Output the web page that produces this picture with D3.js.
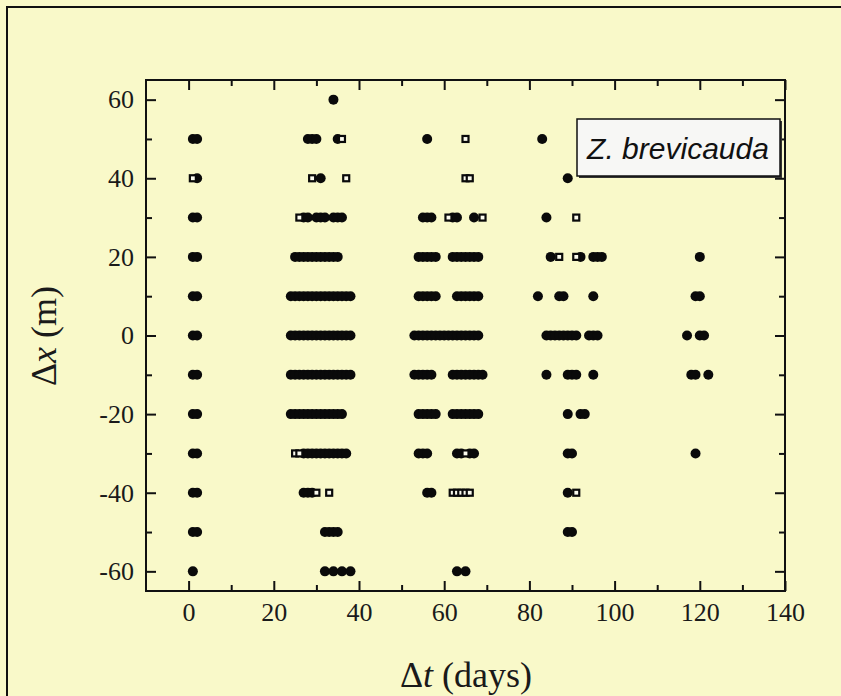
<!DOCTYPE html>
<html>
<head>
<meta charset="utf-8">
<script src="https://cdn.jsdelivr.net/npm/d3@7"></script>
<style>
  html, body { margin: 0; padding: 0; background: #f9f9c9; }
  svg { display: block; }
</style>
</head>
<body>
<svg id="chart" width="841" height="696"></svg>
<script>
// Displacement (m) of each recapture row
const rowsDx = [60, 50, 40, 30, 20, 10, 0, -10, -20, -30, -40, -50, -60];

// Elapsed days of recaptures, one list per row (filled markers)
const filledDays = [
  [34],
  [1, 2, 28, 29, 30, 35, 56, 83],
  [2, 31, 89],
  [1, 2, 27, 28, 30, 31, 32, 34, 35, 36, 55, 56, 57, 62, 63, 67, 84],
  [1, 2, 25, 26, 27, 28, 29, 30, 31, 32, 33, 34, 35, 54, 55, 56, 57, 58, 62, 63, 64, 65, 66, 67, 68, 85, 92, 95, 96, 97, 120],
  [1, 2, 24, 25, 26, 27, 28, 29, 30, 31, 32, 33, 34, 35, 36, 37, 38, 54, 55, 56, 57, 58, 63, 64, 65, 66, 67, 68, 82, 87, 88, 95, 119, 120],
  [1, 2, 24, 25, 26, 27, 28, 29, 30, 31, 32, 33, 34, 35, 36, 37, 38, 53, 54, 55, 56, 57, 58, 59, 60, 61, 62, 63, 64, 65, 66, 67, 68, 84, 85, 86, 87, 88, 89, 90, 91, 94, 95, 96, 117, 120, 121],
  [1, 2, 24, 25, 26, 27, 28, 29, 30, 31, 32, 33, 34, 35, 36, 37, 38, 53, 54, 55, 56, 57, 62, 63, 64, 65, 66, 67, 68, 69, 84, 89, 90, 91, 95, 118, 119, 122],
  [1, 2, 24, 25, 26, 27, 28, 29, 30, 31, 32, 33, 34, 35, 36, 54, 55, 56, 57, 58, 62, 63, 64, 65, 66, 67, 68, 89, 92, 93],
  [1, 2, 27, 28, 29, 30, 31, 32, 33, 34, 35, 36, 37, 54, 55, 56, 63, 64, 66, 67, 89, 90, 119],
  [1, 2, 27, 28, 29, 56, 57, 89],
  [1, 2, 32, 33, 34, 35, 89, 90],
  [1, 32, 34, 36, 38, 63, 65]
];

// Elapsed days of recaptures, one list per row (open squares)
const openDays = [
  [],
  [36, 65],
  [1, 29, 37, 65, 66],
  [26, 61, 69, 91],
  [87, 91],
  [],
  [],
  [],
  [],
  [25, 26, 65],
  [30, 33, 62, 63, 64, 65, 66, 91],
  [],
  []
];

const xMajorTicks = [0, 20, 40, 60, 80, 100, 120, 140];
const xMinorTicks = [10, 30, 50, 70, 90, 110, 130];
const yMajorTicks = [-60, -40, -20, 0, 20, 40, 60];
const yMinorTicks = [-50, -30, -10, 10, 30, 50];

const legendLabel = "Z. brevicauda";

const svg = d3.select("#chart");
const bg = "#f9f9c9";

svg.append("rect").attr("width", 841).attr("height", 696).attr("fill", bg);
// outer frame (extends past right/bottom edge)
svg.append("rect")
  .attr("x", 7).attr("y", 7).attr("width", 860).attr("height", 720)
  .attr("fill", "none").attr("stroke", "#111").attr("stroke-width", 2);

const plot = { left: 146, right: 785, top: 80, bottom: 591 };

const x = d3.scaleLinear().domain([-10, 140]).range([plot.left, plot.right]);
const y = d3.scaleLinear().domain([-65, 65]).range([plot.bottom, plot.top]);

const serif = "'Liberation Serif', 'Times New Roman', serif";

function styleAxis(g) {
  g.select(".domain").remove();
  g.selectAll("line").attr("stroke", "#111").attr("stroke-width", 2);
  g.selectAll("text").attr("fill", "#1a1a1a").style("font-family", serif).style("font-size", "26px");
}

// bottom axis with labels
svg.append("g").attr("transform", `translate(0,${plot.bottom})`)
  .call(d3.axisBottom(x).tickValues(xMajorTicks).tickSizeInner(-10).tickSizeOuter(0).tickPadding(12).tickFormat(d => String(d)))
  .call(styleAxis);
svg.append("g").attr("transform", `translate(0,${plot.bottom})`)
  .call(d3.axisBottom(x).tickValues(xMinorTicks).tickSizeInner(-6).tickSizeOuter(0).tickFormat(""))
  .call(styleAxis);
// top mirror ticks
svg.append("g").attr("transform", `translate(0,${plot.top})`)
  .call(d3.axisTop(x).tickValues(xMajorTicks).tickSizeInner(-10).tickSizeOuter(0).tickFormat(""))
  .call(styleAxis);
svg.append("g").attr("transform", `translate(0,${plot.top})`)
  .call(d3.axisTop(x).tickValues(xMinorTicks).tickSizeInner(-6).tickSizeOuter(0).tickFormat(""))
  .call(styleAxis);
// left axis with labels
svg.append("g").attr("transform", `translate(${plot.left},0)`)
  .call(d3.axisLeft(y).tickValues(yMajorTicks).tickSizeInner(-10).tickSizeOuter(0).tickPadding(12).tickFormat(d => String(d)))
  .call(styleAxis);
svg.append("g").attr("transform", `translate(${plot.left},0)`)
  .call(d3.axisLeft(y).tickValues(yMinorTicks).tickSizeInner(-6).tickSizeOuter(0).tickFormat(""))
  .call(styleAxis);
// right mirror ticks
svg.append("g").attr("transform", `translate(${plot.right},0)`)
  .call(d3.axisRight(y).tickValues(yMajorTicks).tickSizeInner(-10).tickSizeOuter(0).tickFormat(""))
  .call(styleAxis);
svg.append("g").attr("transform", `translate(${plot.right},0)`)
  .call(d3.axisRight(y).tickValues(yMinorTicks).tickSizeInner(-6).tickSizeOuter(0).tickFormat(""))
  .call(styleAxis);

// plot frame
svg.append("rect")
  .attr("x", plot.left).attr("y", plot.top)
  .attr("width", plot.right - plot.left).attr("height", plot.bottom - plot.top)
  .attr("fill", "none").attr("stroke", "#111").attr("stroke-width", 2);

// flatten the per-row lists into points
const filledPts = [];
const openPts = [];
rowsDx.forEach((dx, i) => {
  filledDays[i].forEach(dt => filledPts.push({ dt, dx }));
  openDays[i].forEach(dt => openPts.push({ dt, dx }));
});

svg.append("g").selectAll("circle").data(filledPts).join("circle")
  .attr("cx", d => x(d.dt)).attr("cy", d => y(d.dx)).attr("r", 5)
  .attr("fill", "#0a0a0a");

svg.append("g").selectAll("rect").data(openPts).join("rect")
  .attr("x", d => x(d.dt) - 3).attr("y", d => y(d.dx) - 3)
  .attr("width", 6).attr("height", 6)
  .attr("fill", "#fbfbee").attr("stroke", "#0a0a0a").attr("stroke-width", 2.2);

// legend box
const lg = svg.append("g");
lg.append("rect").attr("x", 579).attr("y", 121).attr("width", 203).attr("height", 57).attr("fill", "#333");
lg.append("rect").attr("x", 577).attr("y", 119).attr("width", 203).attr("height", 57)
  .attr("fill", "#f7f7f5").attr("stroke", "#111").attr("stroke-width", 1.5);
lg.append("text").attr("x", 678).attr("y", 159).attr("text-anchor", "middle")
  .style("font-family", "'Liberation Sans', Arial, sans-serif").style("font-style", "italic")
  .style("font-size", "30px").attr("fill", "#111").text(legendLabel);

// axis titles
const xt = svg.append("text").attr("x", 466).attr("y", 687).attr("text-anchor", "middle")
  .style("font-family", serif).style("font-size", "36px").attr("fill", "#1a1a1a");
xt.append("tspan").text("Δ");
xt.append("tspan").style("font-style", "italic").text("t");
xt.append("tspan").text(" (days)");

const yt = svg.append("text").attr("transform", "translate(56,336) rotate(-90)").attr("text-anchor", "middle")
  .style("font-family", serif).style("font-size", "36px").attr("fill", "#1a1a1a");
yt.append("tspan").text("Δ");
yt.append("tspan").style("font-style", "italic").text("x");
yt.append("tspan").text(" (m)");
</script>
</body>
</html>
